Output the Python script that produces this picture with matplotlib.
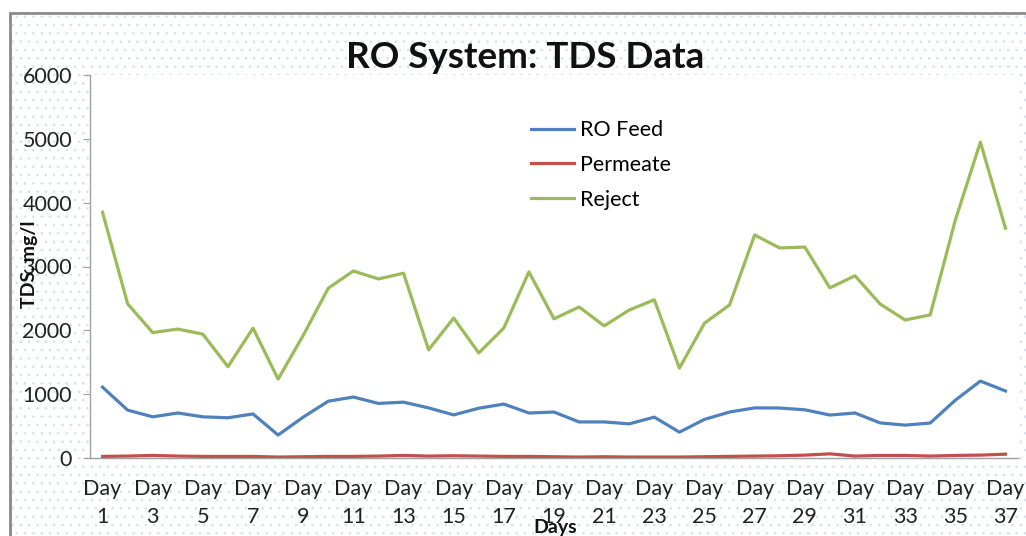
import matplotlib.pyplot as plt
from matplotlib.patches import Rectangle
import numpy as np

plt.rcParams['font.family'] = ['Lato', 'DejaVu Sans']
plt.rcParams['hatch.linewidth'] = 0.6

# Данные (TDS, мг/л) по дням
days = list(range(1, 38))
ro_feed = [1110, 750, 645, 705, 645, 630, 690, 360, 640, 890, 955, 855, 875, 785, 675, 780, 845,
           705, 720, 565, 565, 535, 640, 405, 605, 720, 785, 783, 755, 673, 705, 550, 515, 548,
           905, 1205, 1050]
permeate = [25, 30, 40, 30, 25, 25, 25, 15, 20, 25, 25, 30, 40, 30, 35, 30, 25, 25, 20, 15, 20,
            15, 15, 15, 20, 25, 30, 35, 45, 65, 30, 40, 40, 30, 40, 45, 60]
reject = [3850, 2415, 1965, 2020, 1940, 1430, 2035, 1235, 1920, 2660, 2930, 2805, 2895, 1695,
          2193, 1645, 2037, 2915, 2180, 2366, 2070, 2318, 2478, 1408, 2112, 2398, 3494, 3290,
          3305, 2665, 2855, 2413, 2162, 2242, 3725, 4948, 3600]
tick_labels = ['Day\n%d' % d for d in days[::2]]

fig = plt.figure(figsize=(10.26, 5.36), dpi=100)

# Фон с точечным узором и серая рамка
bg = Rectangle((10 / 1026, -0.1), 1.2, 1 - 13 / 536 + 0.1, transform=fig.transFigure,
               facecolor='white', edgecolor='#d5def0', hatch='..', lw=0, zorder=-2)
fig.patches.append(bg)
border = Rectangle((10 / 1026, -0.1), 1.2, 1 - 13 / 536 + 0.1, transform=fig.transFigure,
                   facecolor='none', edgecolor='#8a8a8a', lw=2, zorder=-1)
fig.patches.append(border)

ax = fig.add_axes([90 / 1026, 1 - 458 / 536, 928 / 1026, 383 / 536])
ax.set_facecolor('white')

ax.plot(days, ro_feed, color='#4F81BD', lw=2.3, label='RO Feed')
ax.plot(days, permeate, color='#C0504D', lw=2.3, label='Permeate')
ax.plot(days, reject, color='#9BBB59', lw=2.3, label='Reject')

ax.set_xlim(0.5, 37.5)
ax.set_ylim(0, 6000)
ax.set_yticks(range(0, 6001, 1000))
ax.set_xticks(days[::2])
ax.set_xticklabels(tick_labels, linespacing=1.5)

for s in ['top', 'right']:
    ax.spines[s].set_visible(False)
for s in ['left', 'bottom']:
    ax.spines[s].set_color('#a0a0a0')
    ax.spines[s].set_linewidth(1)

ax.tick_params(axis='y', length=5, color='#a0a0a0', pad=8, labelsize=15.5, labelcolor='#222222')
ax.tick_params(axis='x', length=0, pad=15, labelsize=15.5, labelcolor='#222222')

fig.text(525 / 1026, 1 - 57 / 536, 'RO System: TDS Data', ha='center', va='center',
         fontsize=26.5, fontweight='bold', color='#111111')
fig.text(30 / 1026, 1 - 264 / 536, 'TDS, mg/l', rotation=90, ha='center', va='center',
         fontsize=14, fontweight='bold', color='#111111')
fig.text(555 / 1026, 1 - 527 / 536, 'Days', ha='center', va='center',
         fontsize=14, fontweight='bold', color='#111111')

ax.legend(loc='upper left', bbox_to_anchor=(512 / 1026, 1 - 101 / 536),
          bbox_transform=fig.transFigure, frameon=False, fontsize=15.5,
          handlelength=2.0, handletextpad=0.25, labelspacing=0.68)

fig.savefig('out.png', dpi=100)
